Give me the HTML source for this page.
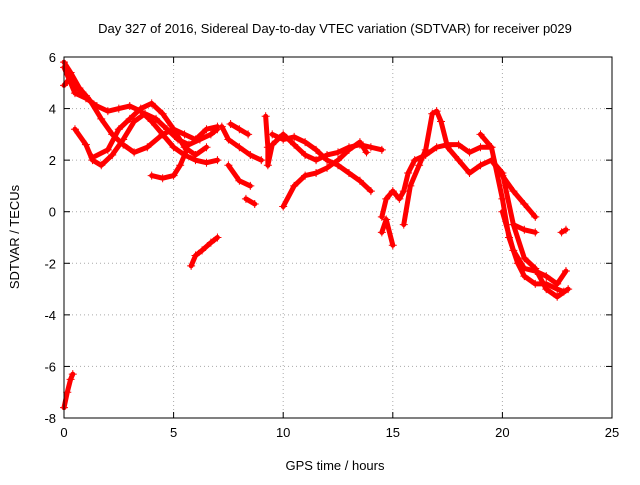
<!DOCTYPE html>
<html><head><meta charset="utf-8"><style>
body{margin:0;background:#fff;font-family:"Liberation Sans",sans-serif}
svg text{font-family:"Liberation Sans",sans-serif;font-size:13px;fill:#000}
</style></head><body>
<svg id="chart" width="640" height="480" xmlns="http://www.w3.org/2000/svg">
<text x="335" y="33" text-anchor="middle" font-size="14">Day 327 of 2016, Sidereal Day-to-day VTEC variation (SDTVAR) for receiver p029</text>
<text x="335" y="470" text-anchor="middle">GPS time / hours</text>
<text transform="translate(19,237) rotate(-90)" text-anchor="middle">SDTVAR / TECUs</text>
<g id="grid"></g>
<g id="axes"></g>
<g id="series"></g>
<rect x="64" y="57" width="548" height="361" fill="none" stroke="#000" stroke-width="1"/>
</svg>
<script>
const xTicks=[0,5,10,15,20,25];
const yTicks=[-8,-6,-4,-2,0,2,4,6];
const track1=[[0,5.8],[0.3,5.4],[0.7,4.8],[1.2,4.3],[1.7,3.6],[2.2,3.0],[2.7,2.6],[3.2,2.3],[3.8,2.5],[4.5,3.0],[5,3.2],[5.5,3.0],[6,2.8],[6.5,3.2],[7,3.3]];
const track2=[[0,5.6],[0.5,4.6],[1,4.4],[1.5,4.1],[2,3.9],[2.5,4.0],[3,4.1],[3.5,3.9],[4,3.5],[4.5,3.0],[5,2.5],[5.5,2.2],[6,2.0],[6.5,1.9],[7,2.0]];
const track3=[[0.5,3.2],[1,2.6],[1.3,2.0],[1.7,1.8],[2.2,2.2],[2.7,2.8],[3.2,3.5],[3.7,3.8],[4.2,3.6],[4.7,3.2],[5.2,2.8],[5.7,2.6],[6.2,2.8],[6.7,3.0],[7,3.2]];
const track4=[[1.3,2.1],[2,2.4],[2.5,3.2],[3,3.6],[3.5,4.0],[4,4.2],[4.5,3.8],[5,3.2],[5.5,2.5],[6,2.2],[6.5,2.5]];
const track5=[[0,4.9],[0.3,5.2],[0.6,4.8],[1,4.5]];
const track6=[[4,1.4],[4.5,1.3],[5,1.4],[5.3,1.8],[5.6,2.4]];
const track7=[[7.2,3.3],[7.5,2.8],[8,2.5],[8.5,2.2],[9,2.0]];
const track8=[[7.5,1.8],[8,1.2],[8.5,1.0]];
const track9=[[7.6,3.4],[8,3.2],[8.4,3.0]];
const track10=[[8.3,0.5],[8.7,0.3]];
const track11=[[9.2,3.7],[9.3,2.5],[9.3,1.8],[9.5,2.6],[10,3.0],[10.5,2.6],[11,2.2],[11.5,2.0],[12,2.2],[12.5,2.3],[13,2.5],[13.5,2.6],[14,2.5],[14.5,2.4]];
const track12=[[9.5,3.0],[10,2.8],[10.5,2.9],[11,2.7],[11.5,2.4],[12,2.0],[12.5,1.8],[13,1.5],[13.5,1.2],[14,0.8]];
const track13=[[10,0.2],[10.5,1.0],[11,1.4],[11.5,1.5],[12,1.7],[12.5,2.0],[13,2.4],[13.5,2.7],[13.8,2.3]];
const track14=[[5.8,-2.1],[6,-1.7],[6.3,-1.5],[6.7,-1.2],[7,-1.0]];
const track15=[[0,-7.6],[0.15,-7.0],[0.3,-6.5],[0.4,-6.3]];
const track16=[[14.5,-0.2],[14.7,0.5],[15,0.8],[15.3,0.5],[15.5,0.8],[15.7,1.5],[16,2.0],[16.5,2.2],[17,2.5],[17.5,2.6],[18,2.6],[18.5,2.3],[19,2.5],[19.5,2.5]];
const track17=[[14.5,-0.8],[14.7,-0.3],[15,-1.3]];
const track18=[[15.5,-0.5],[15.8,1.0],[16.2,1.8],[16.5,2.4],[16.8,3.8],[17,3.9],[17.2,3.5],[17.5,2.5],[18,2.0],[18.5,1.5],[19,1.8],[19.5,2.0],[20,1.4],[20.5,0.8],[21,0.3],[21.5,-0.2]];
const track19=[[19,3.0],[19.5,2.5],[20,0.5],[20.3,-1.0],[20.7,-2.0],[21,-2.5],[21.5,-2.8],[22,-2.8],[22.5,-3.0],[22.8,-3.1]];
const track20=[[20,0],[20.5,-1.5],[21,-2.2],[21.5,-2.3],[22,-2.5],[22.5,-2.8],[22.9,-2.3]];
const track21=[[19.5,2.0],[20,1.5],[20.5,-0.5],[21,-1.8],[21.5,-2.2],[22,-3.0],[22.5,-3.3],[23,-3.0]];
const track22=[[20.5,-0.5],[21,-0.7],[21.5,-0.8]];
const track23=[[22.7,-0.8],[22.9,-0.7]];
const tracks=[track1,track2,track3,track4,track5,track6,track7,track8,track9,track10,track11,track12,track13,track14,track15,track16,track17,track18,track19,track20,track21,track22,track23];

const X0=64,X1=612,Y0=418,Y1=57;
const xs=v=>X0+(v-0)/(25-0)*(X1-X0);
const ys=v=>Y0-(v+8)/(14)*(Y0-Y1);
const NS="http://www.w3.org/2000/svg";
const grid=document.getElementById('grid'),axes=document.getElementById('axes'),ser=document.getElementById('series');
function mk(t,a,p){const e=document.createElementNS(NS,t);for(const k in a)e.setAttribute(k,a[k]);p.appendChild(e);return e;}
xTicks.forEach(v=>{
  const x=xs(v);
  if(v>0&&v<25){const g=mk('line',{x1:x,x2:x,y1:Y0,y2:Y1,stroke:'#aaa','stroke-dasharray':'1,3'},grid);
  
  }
  mk('line',{x1:x,x2:x,y1:Y0,y2:Y0-6,stroke:'#000'},axes);
  mk('line',{x1:x,x2:x,y1:Y1,y2:Y1+6,stroke:'#000'},axes);
  const t=mk('text',{x:x,y:Y0+19,'text-anchor':'middle'},axes);t.textContent=v;
  
  
});
yTicks.forEach(v=>{
  const y=ys(v);
  if(v>-8&&v<6){const g=mk('line',{x1:X0,x2:X1,y1:y,y2:y,stroke:'#aaa','stroke-dasharray':'1,3'},grid);
  
  }
  mk('line',{x1:X0,x2:X0+6,y1:y,y2:y,stroke:'#000'},axes);
  mk('line',{x1:X1,x2:X1-6,y1:y,y2:y,stroke:'#000'},axes);
  const t=mk('text',{x:X0-8,y:y+5,'text-anchor':'end'},axes);t.textContent=v;
  
  
});
tracks.forEach((tr,i)=>{
  const pl=mk('polyline',{points:tr.map(p=>xs(p[0])+','+ys(p[1])).join(' '),fill:'none',stroke:'#f00','stroke-width':5,'stroke-linejoin':'round','stroke-linecap':'round'},ser);
  
  
  tr.forEach(p=>{
    const x=xs(p[0]),y=ys(p[1]);
    const m=mk('path',{d:`M${x-4},${y}H${x+4}M${x},${y-4}V${y+4}`,stroke:'#f00','stroke-width':1},ser);
    
    
  });
});
</script>
</body></html>
